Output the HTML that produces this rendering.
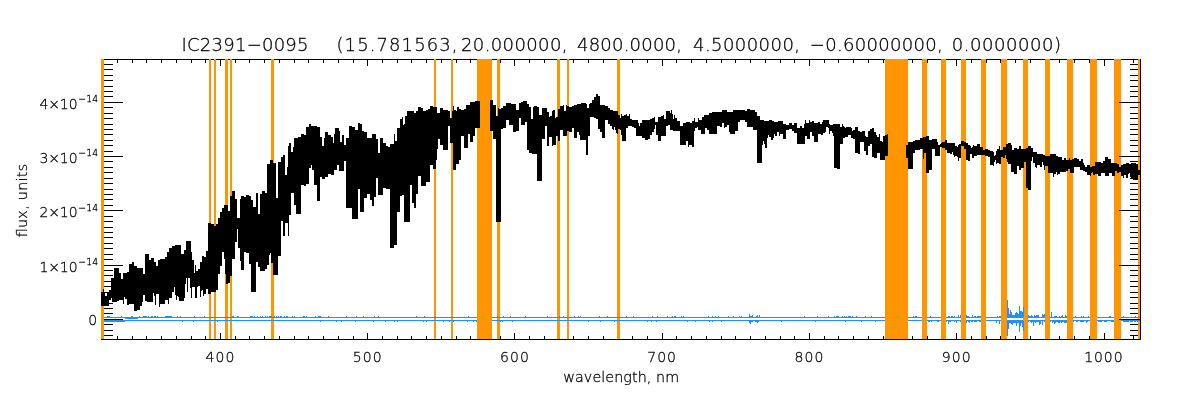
<!DOCTYPE html>
<html lang="en"><head><meta charset="utf-8"><title>IC2391-0095 spectrum</title>
<style>html,body{margin:0;padding:0;background:#fff;}svg{display:block;}text{font-family:"DejaVu Sans Light","DejaVu Sans","Liberation Sans",sans-serif;font-weight:200;fill:#000;stroke:#000;stroke-width:0.28px;}</style></head><body>
<svg width="1200" height="400" viewBox="0 0 1200 400" style="will-change:transform">
<rect x="0" y="0" width="1200" height="400" fill="#fff"/>
<g shape-rendering="crispEdges" fill="#000">
<rect x="101" y="59" width="1040" height="1"/>
<rect x="101" y="59" width="1" height="281"/>
<rect x="1140" y="59" width="1" height="281"/>
<rect x="102" y="59" width="1" height="4"/>
<rect x="102" y="336" width="1" height="4"/>
<rect x="117" y="59" width="1" height="4"/>
<rect x="117" y="336" width="1" height="4"/>
<rect x="132" y="59" width="1" height="4"/>
<rect x="132" y="336" width="1" height="4"/>
<rect x="146" y="59" width="1" height="4"/>
<rect x="146" y="336" width="1" height="4"/>
<rect x="161" y="59" width="1" height="4"/>
<rect x="161" y="336" width="1" height="4"/>
<rect x="176" y="59" width="1" height="4"/>
<rect x="176" y="336" width="1" height="4"/>
<rect x="191" y="59" width="1" height="4"/>
<rect x="191" y="336" width="1" height="4"/>
<rect x="205" y="59" width="1" height="4"/>
<rect x="205" y="336" width="1" height="4"/>
<rect x="220" y="59" width="1" height="7"/>
<rect x="220" y="333" width="1" height="7"/>
<rect x="235" y="59" width="1" height="4"/>
<rect x="235" y="336" width="1" height="4"/>
<rect x="249" y="59" width="1" height="4"/>
<rect x="249" y="336" width="1" height="4"/>
<rect x="264" y="59" width="1" height="4"/>
<rect x="264" y="336" width="1" height="4"/>
<rect x="279" y="59" width="1" height="4"/>
<rect x="279" y="336" width="1" height="4"/>
<rect x="294" y="59" width="1" height="4"/>
<rect x="294" y="336" width="1" height="4"/>
<rect x="308" y="59" width="1" height="4"/>
<rect x="308" y="336" width="1" height="4"/>
<rect x="323" y="59" width="1" height="4"/>
<rect x="323" y="336" width="1" height="4"/>
<rect x="338" y="59" width="1" height="4"/>
<rect x="338" y="336" width="1" height="4"/>
<rect x="353" y="59" width="1" height="4"/>
<rect x="353" y="336" width="1" height="4"/>
<rect x="367" y="59" width="1" height="7"/>
<rect x="367" y="333" width="1" height="7"/>
<rect x="382" y="59" width="1" height="4"/>
<rect x="382" y="336" width="1" height="4"/>
<rect x="397" y="59" width="1" height="4"/>
<rect x="397" y="336" width="1" height="4"/>
<rect x="411" y="59" width="1" height="4"/>
<rect x="411" y="336" width="1" height="4"/>
<rect x="426" y="59" width="1" height="4"/>
<rect x="426" y="336" width="1" height="4"/>
<rect x="441" y="59" width="1" height="4"/>
<rect x="441" y="336" width="1" height="4"/>
<rect x="456" y="59" width="1" height="4"/>
<rect x="456" y="336" width="1" height="4"/>
<rect x="470" y="59" width="1" height="4"/>
<rect x="470" y="336" width="1" height="4"/>
<rect x="485" y="59" width="1" height="4"/>
<rect x="485" y="336" width="1" height="4"/>
<rect x="500" y="59" width="1" height="4"/>
<rect x="500" y="336" width="1" height="4"/>
<rect x="514" y="59" width="1" height="7"/>
<rect x="514" y="333" width="1" height="7"/>
<rect x="529" y="59" width="1" height="4"/>
<rect x="529" y="336" width="1" height="4"/>
<rect x="544" y="59" width="1" height="4"/>
<rect x="544" y="336" width="1" height="4"/>
<rect x="559" y="59" width="1" height="4"/>
<rect x="559" y="336" width="1" height="4"/>
<rect x="573" y="59" width="1" height="4"/>
<rect x="573" y="336" width="1" height="4"/>
<rect x="588" y="59" width="1" height="4"/>
<rect x="588" y="336" width="1" height="4"/>
<rect x="603" y="59" width="1" height="4"/>
<rect x="603" y="336" width="1" height="4"/>
<rect x="618" y="59" width="1" height="4"/>
<rect x="618" y="336" width="1" height="4"/>
<rect x="632" y="59" width="1" height="4"/>
<rect x="632" y="336" width="1" height="4"/>
<rect x="647" y="59" width="1" height="4"/>
<rect x="647" y="336" width="1" height="4"/>
<rect x="662" y="59" width="1" height="7"/>
<rect x="662" y="333" width="1" height="7"/>
<rect x="676" y="59" width="1" height="4"/>
<rect x="676" y="336" width="1" height="4"/>
<rect x="691" y="59" width="1" height="4"/>
<rect x="691" y="336" width="1" height="4"/>
<rect x="706" y="59" width="1" height="4"/>
<rect x="706" y="336" width="1" height="4"/>
<rect x="721" y="59" width="1" height="4"/>
<rect x="721" y="336" width="1" height="4"/>
<rect x="735" y="59" width="1" height="4"/>
<rect x="735" y="336" width="1" height="4"/>
<rect x="750" y="59" width="1" height="4"/>
<rect x="750" y="336" width="1" height="4"/>
<rect x="765" y="59" width="1" height="4"/>
<rect x="765" y="336" width="1" height="4"/>
<rect x="780" y="59" width="1" height="4"/>
<rect x="780" y="336" width="1" height="4"/>
<rect x="794" y="59" width="1" height="4"/>
<rect x="794" y="336" width="1" height="4"/>
<rect x="809" y="59" width="1" height="7"/>
<rect x="809" y="333" width="1" height="7"/>
<rect x="824" y="59" width="1" height="4"/>
<rect x="824" y="336" width="1" height="4"/>
<rect x="838" y="59" width="1" height="4"/>
<rect x="838" y="336" width="1" height="4"/>
<rect x="853" y="59" width="1" height="4"/>
<rect x="853" y="336" width="1" height="4"/>
<rect x="868" y="59" width="1" height="4"/>
<rect x="868" y="336" width="1" height="4"/>
<rect x="883" y="59" width="1" height="4"/>
<rect x="883" y="336" width="1" height="4"/>
<rect x="897" y="59" width="1" height="4"/>
<rect x="897" y="336" width="1" height="4"/>
<rect x="912" y="59" width="1" height="4"/>
<rect x="912" y="336" width="1" height="4"/>
<rect x="927" y="59" width="1" height="4"/>
<rect x="927" y="336" width="1" height="4"/>
<rect x="942" y="59" width="1" height="4"/>
<rect x="942" y="336" width="1" height="4"/>
<rect x="956" y="59" width="1" height="7"/>
<rect x="956" y="333" width="1" height="7"/>
<rect x="971" y="59" width="1" height="4"/>
<rect x="971" y="336" width="1" height="4"/>
<rect x="986" y="59" width="1" height="4"/>
<rect x="986" y="336" width="1" height="4"/>
<rect x="1000" y="59" width="1" height="4"/>
<rect x="1000" y="336" width="1" height="4"/>
<rect x="1015" y="59" width="1" height="4"/>
<rect x="1015" y="336" width="1" height="4"/>
<rect x="1030" y="59" width="1" height="4"/>
<rect x="1030" y="336" width="1" height="4"/>
<rect x="1045" y="59" width="1" height="4"/>
<rect x="1045" y="336" width="1" height="4"/>
<rect x="1059" y="59" width="1" height="4"/>
<rect x="1059" y="336" width="1" height="4"/>
<rect x="1074" y="59" width="1" height="4"/>
<rect x="1074" y="336" width="1" height="4"/>
<rect x="1089" y="59" width="1" height="4"/>
<rect x="1089" y="336" width="1" height="4"/>
<rect x="1104" y="59" width="1" height="7"/>
<rect x="1104" y="333" width="1" height="7"/>
<rect x="1118" y="59" width="1" height="4"/>
<rect x="1118" y="336" width="1" height="4"/>
<rect x="1133" y="59" width="1" height="4"/>
<rect x="1133" y="336" width="1" height="4"/>
<rect x="101" y="335" width="12" height="1"/>
<rect x="1130" y="335" width="11" height="1"/>
<rect x="101" y="330" width="12" height="1"/>
<rect x="1130" y="330" width="11" height="1"/>
<rect x="101" y="324" width="12" height="1"/>
<rect x="1130" y="324" width="11" height="1"/>
<rect x="101" y="319" width="22" height="1"/>
<rect x="1120" y="319" width="21" height="1"/>
<rect x="101" y="313" width="12" height="1"/>
<rect x="1130" y="313" width="11" height="1"/>
<rect x="101" y="308" width="12" height="1"/>
<rect x="1130" y="308" width="11" height="1"/>
<rect x="101" y="303" width="12" height="1"/>
<rect x="1130" y="303" width="11" height="1"/>
<rect x="101" y="297" width="12" height="1"/>
<rect x="1130" y="297" width="11" height="1"/>
<rect x="101" y="292" width="12" height="1"/>
<rect x="1130" y="292" width="11" height="1"/>
<rect x="101" y="286" width="12" height="1"/>
<rect x="1130" y="286" width="11" height="1"/>
<rect x="101" y="281" width="12" height="1"/>
<rect x="1130" y="281" width="11" height="1"/>
<rect x="101" y="275" width="12" height="1"/>
<rect x="1130" y="275" width="11" height="1"/>
<rect x="101" y="270" width="12" height="1"/>
<rect x="1130" y="270" width="11" height="1"/>
<rect x="101" y="265" width="22" height="1"/>
<rect x="1120" y="265" width="21" height="1"/>
<rect x="101" y="259" width="12" height="1"/>
<rect x="1130" y="259" width="11" height="1"/>
<rect x="101" y="254" width="12" height="1"/>
<rect x="1130" y="254" width="11" height="1"/>
<rect x="101" y="248" width="12" height="1"/>
<rect x="1130" y="248" width="11" height="1"/>
<rect x="101" y="243" width="12" height="1"/>
<rect x="1130" y="243" width="11" height="1"/>
<rect x="101" y="237" width="12" height="1"/>
<rect x="1130" y="237" width="11" height="1"/>
<rect x="101" y="232" width="12" height="1"/>
<rect x="1130" y="232" width="11" height="1"/>
<rect x="101" y="227" width="12" height="1"/>
<rect x="1130" y="227" width="11" height="1"/>
<rect x="101" y="221" width="12" height="1"/>
<rect x="1130" y="221" width="11" height="1"/>
<rect x="101" y="216" width="12" height="1"/>
<rect x="1130" y="216" width="11" height="1"/>
<rect x="101" y="210" width="22" height="1"/>
<rect x="1120" y="210" width="21" height="1"/>
<rect x="101" y="205" width="12" height="1"/>
<rect x="1130" y="205" width="11" height="1"/>
<rect x="101" y="199" width="12" height="1"/>
<rect x="1130" y="199" width="11" height="1"/>
<rect x="101" y="194" width="12" height="1"/>
<rect x="1130" y="194" width="11" height="1"/>
<rect x="101" y="189" width="12" height="1"/>
<rect x="1130" y="189" width="11" height="1"/>
<rect x="101" y="183" width="12" height="1"/>
<rect x="1130" y="183" width="11" height="1"/>
<rect x="101" y="178" width="12" height="1"/>
<rect x="1130" y="178" width="11" height="1"/>
<rect x="101" y="172" width="12" height="1"/>
<rect x="1130" y="172" width="11" height="1"/>
<rect x="101" y="167" width="12" height="1"/>
<rect x="1130" y="167" width="11" height="1"/>
<rect x="101" y="161" width="12" height="1"/>
<rect x="1130" y="161" width="11" height="1"/>
<rect x="101" y="156" width="22" height="1"/>
<rect x="1120" y="156" width="21" height="1"/>
<rect x="101" y="151" width="12" height="1"/>
<rect x="1130" y="151" width="11" height="1"/>
<rect x="101" y="145" width="12" height="1"/>
<rect x="1130" y="145" width="11" height="1"/>
<rect x="101" y="140" width="12" height="1"/>
<rect x="1130" y="140" width="11" height="1"/>
<rect x="101" y="134" width="12" height="1"/>
<rect x="1130" y="134" width="11" height="1"/>
<rect x="101" y="129" width="12" height="1"/>
<rect x="1130" y="129" width="11" height="1"/>
<rect x="101" y="124" width="12" height="1"/>
<rect x="1130" y="124" width="11" height="1"/>
<rect x="101" y="118" width="12" height="1"/>
<rect x="1130" y="118" width="11" height="1"/>
<rect x="101" y="113" width="12" height="1"/>
<rect x="1130" y="113" width="11" height="1"/>
<rect x="101" y="107" width="12" height="1"/>
<rect x="1130" y="107" width="11" height="1"/>
<rect x="101" y="102" width="22" height="1"/>
<rect x="1120" y="102" width="21" height="1"/>
<rect x="101" y="96" width="12" height="1"/>
<rect x="1130" y="96" width="11" height="1"/>
<rect x="101" y="91" width="12" height="1"/>
<rect x="1130" y="91" width="11" height="1"/>
<rect x="101" y="86" width="12" height="1"/>
<rect x="1130" y="86" width="11" height="1"/>
<rect x="101" y="80" width="12" height="1"/>
<rect x="1130" y="80" width="11" height="1"/>
<rect x="101" y="75" width="12" height="1"/>
<rect x="1130" y="75" width="11" height="1"/>
<rect x="101" y="69" width="12" height="1"/>
<rect x="1130" y="69" width="11" height="1"/>
<rect x="101" y="64" width="12" height="1"/>
<rect x="1130" y="64" width="11" height="1"/>
</g>
<g shape-rendering="crispEdges" fill="#FF9500">
<rect x="101" y="59" width="3" height="280"/>
<rect x="209" y="59" width="2" height="280"/>
<rect x="214" y="59" width="2" height="280"/>
<rect x="225" y="59" width="3" height="280"/>
<rect x="230" y="59" width="2" height="280"/>
<rect x="271" y="59" width="3" height="280"/>
<rect x="434" y="59" width="2" height="280"/>
<rect x="451" y="59" width="2" height="280"/>
<rect x="477" y="59" width="15" height="280"/>
<rect x="497" y="59" width="3" height="280"/>
<rect x="557" y="59" width="3" height="280"/>
<rect x="567" y="59" width="2" height="280"/>
<rect x="617" y="59" width="3" height="280"/>
<rect x="885" y="59" width="23" height="280"/>
<rect x="922" y="59" width="5" height="280"/>
<rect x="941" y="59" width="5" height="280"/>
<rect x="961" y="59" width="5" height="280"/>
<rect x="981" y="59" width="5" height="280"/>
<rect x="1001" y="59" width="6" height="280"/>
<rect x="1023" y="59" width="5" height="280"/>
<rect x="1045" y="59" width="5" height="280"/>
<rect x="1067" y="59" width="6" height="280"/>
<rect x="1090" y="59" width="7" height="280"/>
<rect x="1114" y="59" width="7" height="280"/>
<rect x="1138" y="59" width="2" height="280"/>
</g>
<g shape-rendering="crispEdges" fill="#000">
<rect x="101" y="339" width="1040" height="1"/>
<rect x="1140" y="59" width="1" height="281"/>
<rect x="1119" y="319" width="22" height="1"/>
<rect x="1119" y="265" width="22" height="1"/>
<rect x="1119" y="210" width="22" height="1"/>
<rect x="1119" y="156" width="22" height="1"/>
<rect x="1119" y="102" width="22" height="1"/>
</g>
<g shape-rendering="crispEdges" fill="#000">
<path d="M101 292h2V289h1V292h1V296h2V293h2V290h2V278h3V268h5V273h2V279h2V273h4V272h2V264h3V262h2V266h3V268h6V274h2V254h4V260h2V258h3V262h2V266h2V260h2V259h5V257h2V252h2V248h3V246h3V245h6V254h3V250h2V241h5V252h1V260h2V273h1V265h1V271h2V269h2V262h2V256h2V257h2V251h2V223h3V224h3V226h2V224h2V218h2V212h2V208h2V205h4V211h2V196h2V191h3V199h2V218h3V199h1V196h3V197h2V195h3V196h2V200h2V207h3V193h2V214h2V194h2V191h3V193h2V164h3V160h3V163h3V198h2V162h3V157h2V155h2V175h2V167h1V146h1V143h2V152h2V147h1V138h4V137h3V134h3V135h2V127h3V124h2V126h6V127h3V137h2V146h2V138h1V132h3V135h3V137h2V143h1V134h1V128h4V131h1V142h2V135h2V145h2V138h3V126h3V127h3V130h3V123h2V124h2V131h2V132h3V138h5V134h4V139h2V153h2V138h3V143h3V146h2V147h2V144h4V134h1V141h2V128h3V119h2V117h1V125h1V124h1V116h2V111h7V113h2V111h2V107h3V108h2V111h3V110h2V109h2V106h3V107h4V113h3V108h3V110h5V111h2V118h2V111h1V106h1V110h2V111h1V107h2V109h2V110h3V109h2V105h4V102h5V101h5V128h-5V136h-2V142h-3V134h-2V148h-4V136h-3V160h-2V164h-3V170h-3V143h-3V126h-2V150h-5V145h-3V139h-2V149h-1V160h-1V169h-3V165h-3V182h-4V186h-5V176h-3V194h-2V208h-2V203h-2V185h-2V222h-6V195h-2V196h-2V212h-3V245h-3V248h-4V189h-4V188h-3V195h-5V178h-2V197h-2V206h-2V200h-2V194h-3V198h-3V212h-4V189h-2V219h-6V208h-6V161h-2V171h-5V165h-2V170h-3V175h-3V174h-3V177h-3V179h-3V177h-2V201h-3V185h-3V170h-2V165h-1V168h-2V184h-3V186h-2V185h-3V214h-5V205h-2V193h-3V215h-2V236h-1V223h-3V236h-2V221h-2V256h-3V275h-5V263h-2V253h-1V255h-1V265h-2V269h-2V271h-5V267h-2V262h-2V292h-5V264h-2V253h-3V252h-2V270h-3V261h-1V248h-2V229h-1V242h-2V259h-3V276h-2V283h-2V284h-2V274h-1V259h-1V252h-2V266h-2V274h-2V290h-2V292h-5V294h-3V289h-2V294h-2V296h-1V290h-1V291h-1V297h-1V286h-2V287h-1V298h-2V287h-3V298h-1V288h-1V278h-2V292h-1V278h-1V284h-1V298h-1V301h-5V297h-1V296h-1V300h-1V295h-1V287h-1V292h-2V298h-3V304h-1V300h-3V304h-5V307h-1V294h-3V305h-1V296h-1V293h-1V302h-6V301h-2V295h-2V302h-1V306h-2V310h-3V311h-3V304h-5V305h-2V299h-2V297h-1V304h-1V300h-4V301h-2V302h-5V297h-1V300h-2V306h-8Z"/>
<path d="M490 100h3V105h3V116h2V108h1V109h2V108h2V106h3V103h5V104h5V110h3V103h2V102h2V101h4V104h2V107h2V119h2V107h1V106h3V107h2V115h3V108h5V112h2V117h1V116h2V111h1V110h2V118h1V117h2V109h2V106h3V105h1V111h2V105h1V106h2V107h3V106h2V105h3V104h4V103h5V104h1V108h2V104h1V103h2V100h2V97h2V94h2V96h2V105h5V106h3V108h2V110h3V111h5V115h2V118h1V114h1V116h2V115h2V114h1V116h2V114h1V119h2V120h6V123h1V126h1V123h2V120h8V119h2V118h2V117h1V122h3V117h3V116h2V115h1V119h2V111h4V113h1V110h1V114h1V119h1V115h1V118h2V121h3V126h3V123h3V122h4V123h2V121h2V118h1V122h3V118h1V120h3V117h2V115h5V113h3V112h10V110h5V112h6V110h12V111h2V109h3V110h5V112h2V116h3V120h4V121h5V120h3V121h2V122h4V121h5V124h3V125h3V123h3V125h2V123h3V128h3V126h2V128h2V124h1V120h1V123h3V120h1V122h2V121h2V123h4V122h2V124h2V122h1V120h6V124h1V125h3V124h7V127h2V124h1V126h1V127h1V128h1V127h5V128h1V131h1V130h2V127h3V131h2V132h2V131h3V136h1V137h2V131h2V129h2V128h2V132h2V135h1V137h2V134h1V141h2V142h1V136h2V135h2V134h1V156h-3V160h-5V153h-3V158h-3V157h-2V144h-2V146h-2V155h-2V151h-2V142h-4V154h-2V153h-3V139h-2V138h-2V135h-3V137h-3V138h-2V144h-3V169h-3V168h-3V136h-1V133h-1V131h-2V134h-1V128h-1V127h-2V132h-1V133h-2V135h-2V134h-3V142h-4V136h-2V132h-2V139h-3V136h-2V144h-8V133h-3V131h-2V129h-3V130h-3V139h-3V134h-3V136h-1V132h-2V136h-2V134h-1V138h-1V140h-2V137h-2V135h-1V138h-1V148h-2V144h-1V141h-1V145h-1V163h-5V130h-4V127h-6V122h-2V120h-5V122h-2V131h-3V134h-5V132h-1V125h-2V127h-2V128h-1V123h-2V127h-2V126h-3V134h-8V130h-2V128h-2V134h-4V130h-3V127h-1V128h-2V131h-1V147h-2V145h-3V147h-1V141h-2V145h-6V131h-7V130h-3V125h-2V126h-2V136h-5V141h-3V135h-2V125h-1V129h-1V132h-2V135h-2V139h-2V140h-3V138h-3V136h-6V128h-2V127h-2V126h-4V128h-2V141h-4V135h-1V130h-1V129h-2V134h-1V133h-1V130h-1V127h-1V130h-1V129h-1V126h-2V124h-2V120h-3V138h-3V132h-2V129h-2V119h-2V118h-2V117h-4V136h-2V155h-2V140h-6V135h-1V132h-2V138h-3V128h-2V132h-3V131h-2V136h-4V130h-3V141h-2V136h-2V145h-3V146h-1V137h-3V146h-2V126h-2V139h-3V181h-5V154h-5V153h-3V150h-2V122h-2V125h-4V118h-2V131h-3V132h-3V125h-4V120h-3V128h-3V129h-2V222h-5V139h-3V131h-3Z"/>
<path d="M906 145h2V142h5V141h2V140h5V138h3V137h3V136h3V140h3V139h5V142h1V145h2V144h1V143h1V142h3V140h2V143h8V146h2V147h1V145h1V144h2V141h3V142h2V143h2V145h2V146h1V148h1V147h1V145h1V146h3V144h3V147h3V150h2V149h3V150h2V151h3V152h1V156h1V155h1V151h1V149h2V146h1V150h3V147h3V144h2V143h3V145h1V150h2V148h3V149h2V146h2V149h5V148h2V146h3V148h2V152h4V154h6V155h2V156h5V154h6V156h2V157h4V160h2V158h2V160h3V158h1V160h2V159h2V158h3V159h2V161h2V159h2V163h1V165h1V167h2V165h3V167h2V166h3V162h6V163h2V161h2V157h3V159h3V163h6V164h2V167h2V165h2V164h3V163h3V164h2V163h5V164h2V170h2V172h1V175h-3V180h-5V178h-2V177h-1V173h-1V174h-1V178h-2V175h-2V178h-1V176h-2V172h-2V173h-2V171h-2V176h-3V173h-3V176h-4V173h-4V176h-3V174h-3V175h-2V172h-1V173h-1V176h-1V175h-3V172h-2V171h-2V170h-3V167h-6V173h-4V169h-2V171h-2V172h-6V174h-2V175h-1V172h-1V174h-2V177h-1V173h-5V166h-3V170h-1V165h-1V162h-1V167h-2V165h-3V168h-1V167h-1V163h-2V157h-1V161h-1V190h-3V188h-2V162h-2V168h-3V170h-2V166h-2V174h-3V172h-3V164h-3V162h-1V159h-1V155h-1V158h-2V157h-2V164h-2V163h-2V164h-1V160h-1V162h-1V166h-1V165h-3V157h-2V156h-3V155h-8V156h-3V158h-2V154h-2V161h-2V160h-2V149h-2V146h-3V158h-2V161h-1V157h-1V156h-2V157h-1V155h-1V152h-1V154h-2V153h-3V150h-2V148h-3V147h-2V156h-5V149h-3V170h-3V173h-3V153h-2V159h-1V149h-3V150h-5V153h-2V169h-5V158h-2Z"/>
</g>
<path fill="#1E90FF" d=""/>
<g shape-rendering="crispEdges" fill="#1E90FF">
<path d="M104 317h373v1h-373zM104 320h373v1h-373zM492 317h393v1h-393zM492 320h393v1h-393zM908 317h14v1h-14zM908 320h14v1h-14zM927 317h14v1h-14zM927 320h14v1h-14zM946 317h15v1h-15zM946 320h15v1h-15zM966 317h15v1h-15zM966 320h15v1h-15zM986 317h15v1h-15zM986 320h15v1h-15zM1007 317h16v1h-16zM1007 320h16v1h-16zM1028 317h17v1h-17zM1028 320h17v1h-17zM1050 317h17v1h-17zM1050 320h17v1h-17zM1073 317h17v1h-17zM1073 320h17v1h-17zM1097 317h17v1h-17zM1097 320h17v1h-17zM1121 317h19v1h-19zM1121 320h19v1h-19zM104 321h21v1h-21zM125 318h13v1h-13zM107 316h1v1h-1zM108 316h1v1h-1zM109 316h1v1h-1zM114 321h1v1h-1zM121 316h1v1h-1zM131 316h1v1h-1zM132 316h1v1h-1zM139 316h1v1h-1zM143 316h1v1h-1zM144 316h1v1h-1zM145 316h1v1h-1zM146 316h1v1h-1zM148 316h1v1h-1zM151 316h1v1h-1zM152 316h1v1h-1zM154 316h1v1h-1zM155 316h1v1h-1zM157 316h1v1h-1zM165 316h1v1h-1zM166 316h1v1h-1zM167 316h1v1h-1zM168 316h1v1h-1zM169 316h1v1h-1zM170 316h1v1h-1zM171 316h1v1h-1zM177 316h1v1h-1zM180 316h1v1h-1zM182 321h1v1h-1zM193 321h1v1h-1zM194 316h1v1h-1zM204 316h1v1h-1zM217 321h1v1h-1zM232 316h1v1h-1zM233 316h1v1h-1zM237 316h1v1h-1zM238 316h1v1h-1zM250 316h1v1h-1zM251 316h1v1h-1zM252 316h1v1h-1zM254 316h1v1h-1zM257 316h1v1h-1zM260 316h1v1h-1zM262 316h1v1h-1zM265 316h1v1h-1zM267 316h1v1h-1zM269 316h1v1h-1zM270 316h1v1h-1zM271 316h1v1h-1zM274 316h1v1h-1zM276 316h1v1h-1zM278 316h1v1h-1zM280 316h1v1h-1zM281 316h1v1h-1zM284 316h1v1h-1zM286 316h1v1h-1zM287 316h1v1h-1zM292 316h1v1h-1zM294 316h1v1h-1zM303 316h1v1h-1zM304 316h1v1h-1zM306 316h1v1h-1zM315 316h1v1h-1zM318 316h1v1h-1zM319 316h1v1h-1zM320 316h1v1h-1zM320 321h1v1h-1zM328 316h1v1h-1zM336 321h1v1h-1zM341 321h1v1h-1zM346 316h1v1h-1zM355 321h1v1h-1zM356 316h1v1h-1zM363 316h1v1h-1zM373 321h1v1h-1zM374 316h1v1h-1zM378 316h1v1h-1zM385 321h1v1h-1zM394 321h1v1h-1zM397 321h1v1h-1zM416 316h1v1h-1zM423 321h1v1h-1zM424 316h1v1h-1zM426 321h1v1h-1zM435 316h1v1h-1zM443 321h1v1h-1zM449 321h1v1h-1zM453 321h1v1h-1zM467 321h1v1h-1zM468 316h1v1h-1zM473 321h1v1h-1zM476 321h1v1h-1zM497 316h1v1h-1zM500 321h1v1h-1zM502 321h1v1h-1zM503 316h1v1h-1zM510 316h1v1h-1zM512 321h1v1h-1zM525 316h1v1h-1zM547 316h1v1h-1zM559 316h1v1h-1zM563 316h1v1h-1zM574 316h1v1h-1zM578 316h1v1h-1zM580 316h1v1h-1zM588 321h1v1h-1zM599 316h1v1h-1zM600 321h1v1h-1zM607 316h1v1h-1zM614 321h1v1h-1zM617 321h1v1h-1zM626 316h1v1h-1zM633 316h1v1h-1zM647 321h1v1h-1zM651 321h1v1h-1zM652 316h1v1h-1zM656 321h1v1h-1zM657 316h1v1h-1zM667 316h1v1h-1zM672 316h1v1h-1zM674 316h1v1h-1zM675 316h1v1h-1zM681 316h1v1h-1zM683 316h1v1h-1zM687 321h1v1h-1zM695 321h1v1h-1zM708 316h1v1h-1zM709 321h1v1h-1zM712 316h1v1h-1zM712 321h1v1h-1zM715 316h1v1h-1zM718 316h1v1h-1zM721 321h1v1h-1zM728 316h1v1h-1zM733 316h1v1h-1zM739 316h1v1h-1zM741 316h1v1h-1zM749 314h1v3h-1zM749 321h1v2h-1zM750 316h1v1h-1zM750 321h1v3h-1zM751 316h1v1h-1zM751 321h1v1h-1zM752 315h1v2h-1zM752 321h1v1h-1zM755 321h1v1h-1zM756 316h1v1h-1zM756 321h1v1h-1zM757 315h1v2h-1zM757 321h1v2h-1zM758 321h1v1h-1zM759 315h1v2h-1zM781 321h1v1h-1zM804 316h1v1h-1zM815 321h1v1h-1zM817 316h1v1h-1zM828 316h1v1h-1zM834 316h1v1h-1zM836 316h1v1h-1zM837 316h1v1h-1zM838 316h1v1h-1zM842 316h1v1h-1zM844 316h1v1h-1zM845 321h1v1h-1zM846 316h1v1h-1zM848 316h1v1h-1zM849 316h1v1h-1zM850 316h1v1h-1zM852 316h1v1h-1zM856 316h1v1h-1zM861 321h1v1h-1zM865 316h1v1h-1zM871 316h1v1h-1zM875 321h1v1h-1zM913 316h1v1h-1zM915 316h1v1h-1zM916 316h1v1h-1zM928 321h1v1h-1zM929 321h1v1h-1zM930 316h1v1h-1zM931 321h1v1h-1zM937 321h1v1h-1zM938 321h1v1h-1zM946 321h1v1h-1zM948 316h1v1h-1zM948 321h1v3h-1zM949 316h1v1h-1zM949 321h1v1h-1zM950 321h1v1h-1zM951 316h1v1h-1zM952 316h1v1h-1zM954 316h1v1h-1zM954 321h1v1h-1zM956 321h1v2h-1zM958 315h1v2h-1zM960 315h1v2h-1zM960 321h1v1h-1zM966 315h1v2h-1zM966 321h1v2h-1zM967 316h1v1h-1zM968 316h1v1h-1zM968 321h1v1h-1zM969 321h1v2h-1zM971 321h1v1h-1zM972 315h1v2h-1zM972 321h1v1h-1zM974 316h1v1h-1zM974 321h1v1h-1zM975 316h1v1h-1zM975 321h1v1h-1zM976 321h1v1h-1zM977 316h1v1h-1zM978 316h1v1h-1zM979 316h1v1h-1zM979 321h1v1h-1zM980 316h1v1h-1zM980 321h1v1h-1zM996 321h1v2h-1zM997 316h1v1h-1zM999 316h1v1h-1zM999 321h1v3h-1zM1000 316h1v1h-1zM1007 300h1v17h-1zM1007 321h1v15h-1zM1008 308h1v9h-1zM1008 321h1v8h-1zM1009 314h1v3h-1zM1009 321h1v2h-1zM1010 310h1v7h-1zM1010 321h1v2h-1zM1011 312h1v5h-1zM1011 321h1v3h-1zM1012 315h1v2h-1zM1012 321h1v4h-1zM1013 315h1v2h-1zM1013 321h1v2h-1zM1014 315h1v2h-1zM1014 321h1v2h-1zM1015 313h1v4h-1zM1015 321h1v2h-1zM1016 312h1v5h-1zM1016 321h1v5h-1zM1017 313h1v4h-1zM1017 321h1v2h-1zM1018 314h1v3h-1zM1018 321h1v2h-1zM1019 306h1v11h-1zM1019 321h1v11h-1zM1020 311h1v6h-1zM1020 321h1v5h-1zM1021 311h1v6h-1zM1021 321h1v2h-1zM1022 312h1v5h-1zM1022 321h1v6h-1zM1023 307h1v10h-1zM1023 321h1v10h-1zM1028 315h1v2h-1zM1028 321h1v1h-1zM1029 316h1v1h-1zM1030 316h1v1h-1zM1030 321h1v1h-1zM1031 315h1v2h-1zM1031 321h1v2h-1zM1032 316h1v1h-1zM1032 321h1v1h-1zM1033 321h1v5h-1zM1034 315h1v2h-1zM1034 321h1v1h-1zM1035 316h1v1h-1zM1035 321h1v2h-1zM1036 315h1v2h-1zM1036 321h1v1h-1zM1037 315h1v2h-1zM1037 321h1v1h-1zM1038 315h1v2h-1zM1038 321h1v1h-1zM1039 321h1v4h-1zM1040 321h1v3h-1zM1042 314h1v3h-1zM1042 321h1v4h-1zM1043 315h1v2h-1zM1044 314h1v3h-1zM1044 321h1v1h-1zM1050 321h1v1h-1zM1051 312h1v5h-1zM1052 321h1v2h-1zM1053 321h1v1h-1zM1054 316h1v1h-1zM1054 321h1v3h-1zM1055 316h1v1h-1zM1055 321h1v2h-1zM1056 316h1v1h-1zM1056 321h1v1h-1zM1057 321h1v1h-1zM1058 321h1v2h-1zM1059 316h1v1h-1zM1059 321h1v2h-1zM1060 321h1v1h-1zM1061 316h1v1h-1zM1061 321h1v2h-1zM1062 315h1v2h-1zM1062 321h1v1h-1zM1063 321h1v1h-1zM1064 321h1v2h-1zM1065 315h1v2h-1zM1065 321h1v2h-1zM1066 316h1v1h-1zM1066 321h1v2h-1zM1073 321h1v1h-1zM1075 316h1v1h-1zM1076 321h1v1h-1zM1077 321h1v1h-1zM1080 321h1v1h-1zM1081 316h1v1h-1zM1081 321h1v1h-1zM1082 321h1v1h-1zM1083 316h1v1h-1zM1083 321h1v1h-1zM1086 321h1v2h-1zM1087 321h1v1h-1zM1088 316h1v1h-1zM1098 321h1v1h-1zM1099 321h1v1h-1zM1100 321h1v1h-1zM1101 321h1v1h-1zM1104 321h1v1h-1zM1105 321h1v1h-1zM1106 321h1v1h-1zM1109 316h1v1h-1zM1110 316h1v1h-1zM1111 321h1v1h-1zM1112 321h1v1h-1zM1113 321h1v1h-1zM1123 316h1v1h-1zM1123 321h1v1h-1zM1124 321h1v1h-1zM1125 321h1v1h-1zM1126 321h1v1h-1zM1127 321h1v1h-1zM1128 321h1v1h-1zM1130 321h1v1h-1zM1131 321h1v1h-1zM1132 321h1v1h-1zM1134 321h1v1h-1zM1135 316h1v1h-1zM1135 321h1v1h-1zM1137 321h1v1h-1z"/>
</g>
<g style="filter:grayscale(1)">
<text x="181.5" y="50.8" font-size="18" textLength="127.0" lengthAdjust="spacing">IC2391−0095</text>
<text x="336.5" y="50.8" font-size="18" textLength="121.0" lengthAdjust="spacing">(15.781563,</text>
<text x="461" y="50.8" font-size="18" textLength="106.5" lengthAdjust="spacing">20.000000,</text>
<text x="577" y="50.8" font-size="18" textLength="105.0" lengthAdjust="spacing">4800.0000,</text>
<text x="693" y="50.8" font-size="18" textLength="107.0" lengthAdjust="spacing">4.5000000,</text>
<text x="809.8" y="50.8" font-size="18" textLength="132.9" lengthAdjust="spacing">−0.60000000,</text>
<text x="951.7" y="50.8" font-size="18" textLength="109.3" lengthAdjust="spacing">0.0000000)</text>
<text x="205.5" y="362" font-size="14" textLength="28.8" lengthAdjust="spacing">400</text>
<text x="352.8" y="362" font-size="14" textLength="28.8" lengthAdjust="spacing">500</text>
<text x="500.0" y="362" font-size="14" textLength="28.8" lengthAdjust="spacing">600</text>
<text x="647.2" y="362" font-size="14" textLength="28.8" lengthAdjust="spacing">700</text>
<text x="794.5" y="362" font-size="14" textLength="28.8" lengthAdjust="spacing">800</text>
<text x="941.8" y="362" font-size="14" textLength="28.8" lengthAdjust="spacing">900</text>
<text x="1084.2" y="362" font-size="14" textLength="38.4" lengthAdjust="spacing">1000</text>
<text x="563.2" y="381.7" font-size="14.3" textLength="116" lengthAdjust="spacing">wavelength, nm</text>
<text x="39.4" y="271.7" font-size="14" textLength="38.2" lengthAdjust="spacing">1×10</text>
<text x="78.3" y="264.8" font-size="9.2" textLength="19.8" lengthAdjust="spacing">−14</text>
<text x="39.4" y="217.4" font-size="14" textLength="38.2" lengthAdjust="spacing">2×10</text>
<text x="78.3" y="210.5" font-size="9.2" textLength="19.8" lengthAdjust="spacing">−14</text>
<text x="39.4" y="163.2" font-size="14" textLength="38.2" lengthAdjust="spacing">3×10</text>
<text x="78.3" y="156.2" font-size="9.2" textLength="19.8" lengthAdjust="spacing">−14</text>
<text x="39.4" y="108.9" font-size="14" textLength="38.2" lengthAdjust="spacing">4×10</text>
<text x="78.3" y="102.0" font-size="9.2" textLength="19.8" lengthAdjust="spacing">−14</text>
<text x="88.3" y="325.4" font-size="14" >0</text>
<text transform="translate(27,237.3) rotate(-90)" font-size="14.3" textLength="73.5" lengthAdjust="spacing">flux, units</text>
</g>
</svg></body></html>
